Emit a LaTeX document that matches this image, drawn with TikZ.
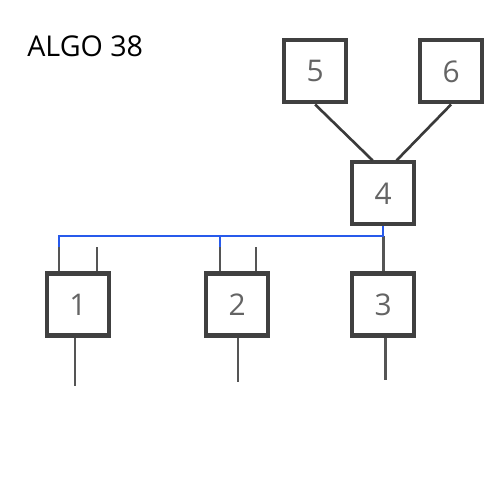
\documentclass[tikz,border=0pt]{standalone}
\usepackage{fontspec}
\setmainfont{Open Sans}
\usetikzlibrary{positioning, calc}

\definecolor{boxgray}{RGB}{64,64,64}
\definecolor{leadgray}{RGB}{85,85,85}
\definecolor{numgray}{RGB}{100,100,100}
\definecolor{busblue}{RGB}{40,90,235}

\begin{document}
\begin{tikzpicture} [
    chip/.style={rectangle, draw=boxgray, line width=2.3pt, minimum size=1.24cm, inner sep=0pt, font=\fontsize{17}{20}\selectfont, text=numgray},
    lead/.style={draw=leadgray, line width=1.6pt},
    wire/.style={draw=boxgray!90!black, line width=1.5pt},
    bus/.style={draw=busblue, line width=1.4pt}
]
\useasboundingbox (0,0) rectangle (10,10);

% title
\node[anchor=base west, inner sep=0pt, font=\fontsize{16.3}{19}\selectfont] (title) at (0.54,8.86) {ALGO 38};

% chips
\node[chip] (b1) at (1.56,3.91) {1};
\node[chip, right=1.86cm of b1] (b2) {2};
\node[chip, right=1.6cm of b2] (b3) {3};
\node[chip, above=0.9cm of b3] (b4) {4};
\node[chip, above=1.12cm of b4, xshift=-1.36cm] (b5) {5};
\node[chip, above=1.12cm of b4, xshift=1.36cm] (b6) {6};

% pin ends
\coordinate (p1a) at ($(b1.north)+(-0.38,0.48)$);
\coordinate (p1b) at ($(b1.north)+(0.38,0.48)$);
\coordinate (p2a) at ($(b2.north)+(-0.34,0.48)$);
\coordinate (p2b) at ($(b2.north)+(0.38,0.48)$);
\coordinate (q1) at ($(b1.south)+(-0.06,-0.96)$);
\coordinate (q2) at ($(b2.south)+(0.02,-0.88)$);
\coordinate (q3) at ($(b3.south)+(0.04,-0.84)$);
\coordinate (bus) at ($(b4.south)+(0,-0.19)$);

% leads
\draw[lead] (b1.north -| p1a) -- (p1a);
\draw[lead] (b1.north -| p1b) -- (p1b);
\draw[lead] (b2.north -| p2a) -- (p2a);
\draw[lead] (b2.north -| p2b) -- (p2b);
\draw[lead] (b1.south -| q1) -- (q1);
\draw[lead] (b2.south -| q2) -- (q2);
\draw[lead] (b3.south -| q3) -- (q3);
\draw[lead] (bus) -- (b3.north);

% blue bus
\draw[bus] (p1a) |- (bus) -- (b4.south);
\draw[bus] (p2a) |- (bus);

% upper links
\draw[wire] (b5.south) -- ([xshift=-0.21cm]b4.north);
\draw[wire] (b6.south) -- ([xshift=0.27cm]b4.north);

\end{tikzpicture}
\end{document}
